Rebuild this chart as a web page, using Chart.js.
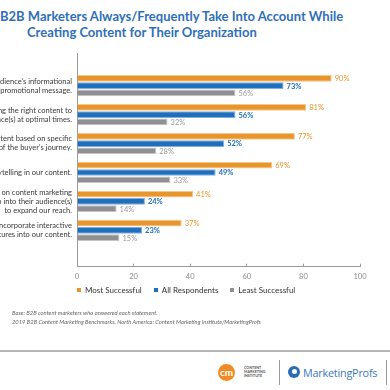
<!DOCTYPE html>
<html>
<head>
<meta charset="utf-8">
<script src="https://cdn.jsdelivr.net/npm/chart.js@4.4.1/dist/chart.umd.min.js"></script>
<style>
  html, body { margin: 0; padding: 0; background: #fff; }
  body { width: 390px; height: 390px; position: relative; overflow: hidden; font-family: Lato, "Liberation Sans", sans-serif; }
  #title { position: absolute; left: 0; top: 8px; font-weight: 700; font-size: 13px; line-height: 16px; color: #2f6fb8; white-space: nowrap; }
  #title .l2 { padding-left: 27px; }
  #chartWrap { position: absolute; left: -100px; top: 0; width: 490px; height: 290px; }
  #legend { position: absolute; left: 77px; top: 285px; display: flex; font-size: 8px; color: #333; white-space: nowrap; }
  #legend .item { display: flex; align-items: center; margin-right: 12px; }
  #legend .sw { width: 4px; height: 4px; margin-right: 4px; }
  #notes { position: absolute; left: 12px; top: 309px; font-style: italic; font-size: 5.8px; line-height: 8.5px; color: #666; white-space: nowrap; }
  #rule { position: absolute; left: 0; top: 350px; width: 390px; height: 1.5px; background: #b8b8b8; }
  .div { position: absolute; top: 360px; width: 1px; height: 25px; background: #999; }
  #cmCircle { position: absolute; left: 218px; top: 364px; width: 17px; height: 17px; border-radius: 50%; background: #ef8b22; color: #fff; font-weight: 700; font-size: 10px; line-height: 16px; text-align: center; }
  #cmText { position: absolute; left: 244px; top: 366px; font-size: 3.6px; line-height: 4.2px; color: #555; font-weight: 700; }
  #mpIcon { position: absolute; left: 288px; top: 366px; width: 12px; height: 12px; border-radius: 50%; background: #2a6db5; }
  #mpIcon::after { content: ""; position: absolute; left: 4px; top: 3px; width: 5px; height: 5px; border-radius: 50%; background: #fff; }
  #mpText { position: absolute; left: 303px; top: 365px; font-size: 10.8px; color: #3a78bd; font-family: "Open Sans", Lato, sans-serif; letter-spacing: -0.2px; }
</style>
</head>
<body>
<div id="title"><div>B2B Marketers Always/Frequently Take Into Account While</div><div class="l2">Creating Content for Their Organization</div></div>
<div id="chartWrap"><canvas id="c" width="490" height="290"></canvas></div>
<div id="legend"></div>
<div id="notes"><div>Base: B2B content marketers who answered each statement.</div><div>2019 B2B Content Marketing Benchmarks, North America: Content Marketing Institute/MarketingProfs</div></div>
<div id="rule"></div>
<div id="cmCircle">cm</div>
<div id="cmText">CONTENT<br>MARKETING<br>INSTITUTE</div>
<div class="div" style="left:279px"></div>
<div id="mpIcon"></div>
<div id="mpText">MarketingProfs</div>
<div class="div" style="left:386px"></div>
<script>
// ---- data ----
const categories = [
  ["Prioritize the audience's informational", "needs over our sales/promotional message."],
  ["Focus on delivering the right content to", "the right audience(s) at optimal times."],
  ["Craft content based on specific", "stages of the buyer's journey."],
  ["Use storytelling in our content."],
  ["Collaborate with others on content marketing", "who can tap into their audience(s)", "to expand our reach."],
  ["Incorporate interactive", "features into our content."]
];
const mostSuccessful = [90, 81, 77, 69, 41, 37];
const allRespondents = [73, 56, 52, 49, 24, 23];
const leastSuccessful = [56, 32, 28, 33, 14, 15];
const seriesNames = ["Most Successful", "All Respondents", "Least Successful"];
const xTickValues = [0, 20, 40, 60, 80, 100];

const colors = ["#e8952b", "#1f6fbd", "#909092"];
const borderColors = ["#f6c68a", "#7fb0e0", "#c4c4c6"];
const labelColors = ["#e8952b", "#1f6fbd", "#9a9a9a"];
const labelWeights = ["normal", "bold", "normal"];

const seriesValues = [mostSuccessful, allRespondents, leastSuccessful];

const datasets = seriesValues.map((vals, s) => ({
  label: seriesNames[s],
  data: vals.map((v, i) => ({ x: v, y: i })),
  backgroundColor: colors[s],
  borderColor: borderColors[s],
  borderWidth: 1,
  borderSkipped: 'left',
  categoryPercentage: 0.75,
  barPercentage: 0.92
}));

// legend (HTML) built from series arrays
const leg = document.getElementById('legend');
seriesNames.forEach((n, s) => {
  const it = document.createElement('div'); it.className = 'item';
  const sw = document.createElement('div'); sw.className = 'sw'; sw.style.background = colors[s];
  const tx = document.createElement('span'); tx.textContent = n;
  it.appendChild(sw); it.appendChild(tx); leg.appendChild(it);
});

const valueLabels = {
  id: 'valueLabels',
  afterDatasetsDraw(chart) {
    const ctx = chart.ctx;
    ctx.save();
    ctx.textBaseline = 'middle';
    ctx.textAlign = 'left';
    chart.data.datasets.forEach((ds, s) => {
      const meta = chart.getDatasetMeta(s);
      ctx.fillStyle = labelColors[s];
      ctx.font = labelWeights[s] + ' 7.5px Lato';
      meta.data.forEach((el, i) => {
        ctx.fillText(seriesValues[s][i] + '%', el.x + 3, el.y + 0.5);
      });
    });
    ctx.restore();
  }
};

Chart.defaults.font.family = 'Lato';
new Chart(document.getElementById('c'), {
  type: 'bar',
  data: { datasets },
  options: {
    indexAxis: 'y',
    responsive: false,
    animation: false,
    devicePixelRatio: 1,
    layout: { padding: { top: 53.4, bottom: 3.3, left: 0, right: 30 } },
    plugins: { legend: { display: false }, tooltip: { enabled: false } },
    scales: {
      x: {
        type: 'linear', min: 0, max: 100,
        afterBuildTicks: (sc) => { sc.ticks = xTickValues.map(v => ({ value: v })); },
        afterFit: (sc) => { sc.height = 20; },
        grid: { drawOnChartArea: false, drawTicks: true, tickLength: -3, color: '#9a9a9a' },
        border: { display: true, color: '#9a9a9a', width: 1 },
        ticks: { color: '#8a8a8a', font: { size: 7.5 }, padding: 8, maxRotation: 0 }
      },
      y: {
        type: 'linear', reverse: true, min: -0.5, max: 5.64,
        afterBuildTicks: (sc) => { sc.ticks = categories.map((_, i) => ({ value: i })); },
        afterFit: (sc) => { sc.width = 177; },
        grid: { drawOnChartArea: false, drawTicks: false },
        border: { display: true, color: '#9a9a9a', width: 1 },
        ticks: {
          autoSkip: false, padding: 5, color: '#3a3a3a',
          font: { size: 7.5, lineHeight: 1.2 },
          callback: (v) => categories[v]
        }
      }
    }
  },
  plugins: [valueLabels]
});
</script>
</body>
</html>
